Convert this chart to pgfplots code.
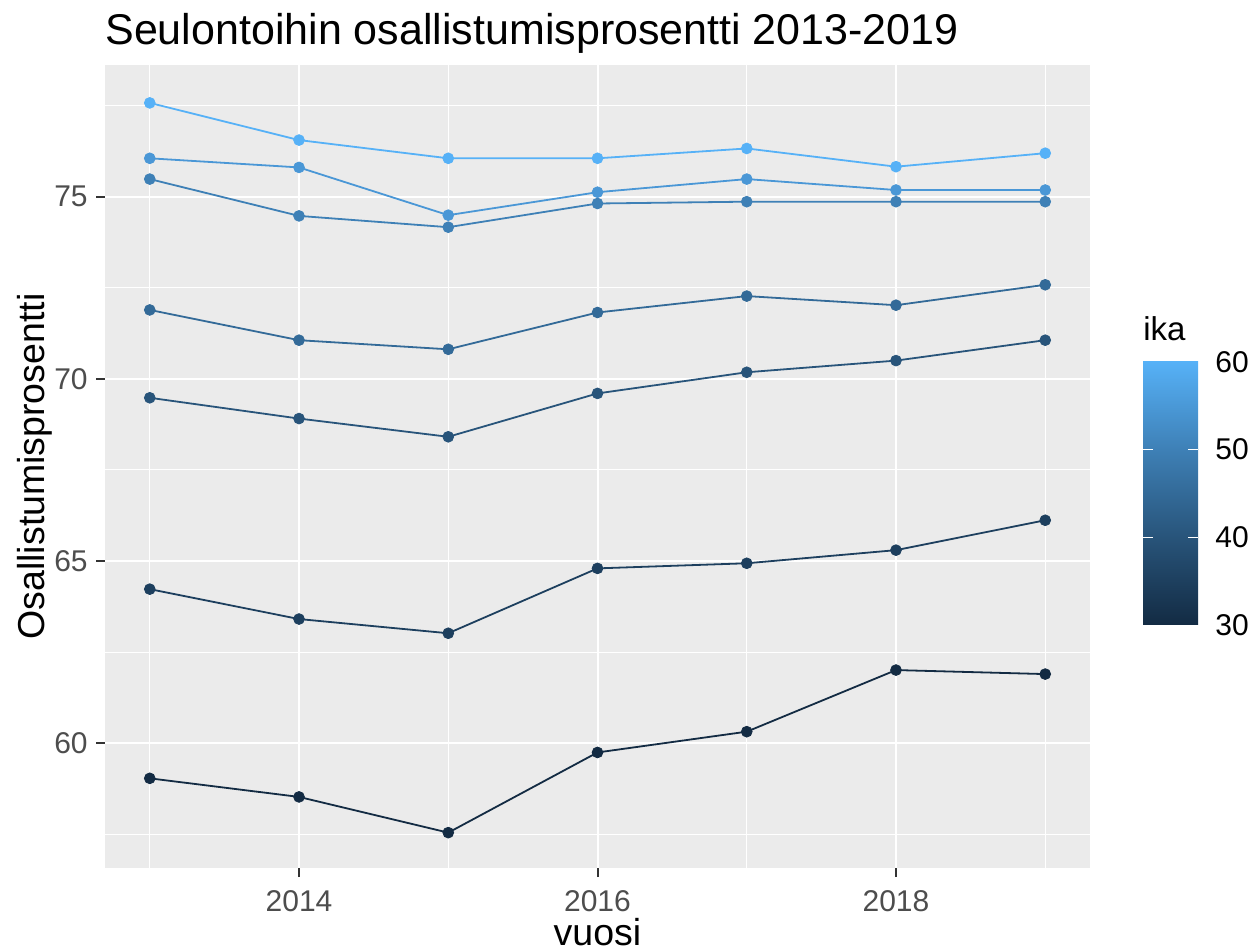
\documentclass[border=0pt]{standalone}
\usepackage{fontspec}
\setmainfont{Liberation Sans}
\usepackage{pgfplots}
\usepackage{pgfplotstable}
\pgfplotsset{compat=1.18}
\definecolor{panel}{HTML}{EBEBEB}
\definecolor{gtxt}{HTML}{4D4D4D}
\definecolor{gtick}{HTML}{333333}
\definecolor{c30}{HTML}{132B43}
\definecolor{c35}{HTML}{1D3F5E}
\definecolor{c40}{HTML}{28547A}
\definecolor{c45}{HTML}{336A98}
\definecolor{c50}{HTML}{3E80B6}
\definecolor{c55}{HTML}{4A97D6}
\definecolor{c60}{HTML}{56B1F7}

\pgfplotstableread{
year a30 a35 a40 a45 a50 a55 a60
2013 59.04 64.23 69.48 71.89 75.48 76.05 77.57
2014 58.53 63.41 68.91 71.06 74.47 75.80 76.55
2015 57.55 63.02 68.41 70.81 74.16 74.49 76.05
2016 59.75 64.80 69.60 71.82 74.81 75.12 76.05
2017 60.32 64.94 70.18 72.27 74.86 75.48 76.32
2018 62.01 65.30 70.50 72.02 74.86 75.18 75.82
2019 61.90 66.12 71.06 72.58 74.86 75.18 76.19
}\data

\begin{document}
\begin{tikzpicture}
\useasboundingbox (0,0) rectangle (625.5bp,475.5bp);
\begin{axis}[
  at={(52.5bp,41.5bp)}, anchor=south west,
  scale only axis, width=492.5bp, height=401.5bp,
  xmin=2012.7, xmax=2019.3, ymin=56.58, ymax=78.61,
  xtick={2014,2016,2018}, minor xtick={2013,2015,2017,2019},
  ytick={60,65,70,75}, minor ytick={57.5,62.5,67.5,72.5,77.5},
  grid=both,
  major grid style={white, line width=1bp},
  minor grid style={white, line width=0.5bp},
  axis background/.style={fill=panel},
  axis line style={draw=none},
  tick align=outside, tick pos=left,
  major tick length=4.5bp, minor tick length=0pt,
  tick style={gtick, line width=1bp},
  /pgf/number format/assume math mode=true,
  /pgf/number format/1000 sep={},
  tick label style={font=\fontsize{15bp}{18bp}\selectfont, text=gtxt, inner sep=0pt},
  yticklabel shift=4bp,
  xticklabel shift=6.5bp,
  xlabel={vuosi},
  xlabel style={at={(axis description cs:0.5,-0.0959)}, anchor=base, inner sep=0pt, font=\fontsize{18.75bp}{22bp}\selectfont},
  ylabel={Osallistumisprosentti},
  ylabel style={at={(axis description cs:-0.0619,0.5)}, anchor=base, inner sep=0pt, font=\fontsize{18.75bp}{22bp}\selectfont},
]
\addplot[c30, line width=0.9bp] table[x=year,y=a30]{\data};
\addplot[c35, line width=0.9bp] table[x=year,y=a35]{\data};
\addplot[c40, line width=0.9bp] table[x=year,y=a40]{\data};
\addplot[c45, line width=0.9bp] table[x=year,y=a45]{\data};
\addplot[c50, line width=0.9bp] table[x=year,y=a50]{\data};
\addplot[c55, line width=0.9bp] table[x=year,y=a55]{\data};
\addplot[c60, line width=0.9bp] table[x=year,y=a60]{\data};
\addplot[only marks, mark=*, mark size=2.7bp, c30] table[x=year,y=a30]{\data};
\addplot[only marks, mark=*, mark size=2.7bp, c35] table[x=year,y=a35]{\data};
\addplot[only marks, mark=*, mark size=2.7bp, c40] table[x=year,y=a40]{\data};
\addplot[only marks, mark=*, mark size=2.7bp, c45] table[x=year,y=a45]{\data};
\addplot[only marks, mark=*, mark size=2.7bp, c50] table[x=year,y=a50]{\data};
\addplot[only marks, mark=*, mark size=2.7bp, c55] table[x=year,y=a55]{\data};
\addplot[only marks, mark=*, mark size=2.7bp, c60] table[x=year,y=a60]{\data};
\end{axis}
\node[anchor=base west, inner sep=0pt, font=\fontsize{21.5bp}{26bp}\selectfont] at (52.5bp,453bp) {Seulontoihin osallistumisprosentti 2013-2019};
% colour bar legend
\node[anchor=base west, inner sep=0pt, font=\fontsize{16.5bp}{20bp}\selectfont] at (571.5bp,305bp) {ika};
\shade[bottom color=c30, top color=c40] (571.5bp,163bp) rectangle (599bp,206.9bp);
\shade[bottom color=c40, top color=c50] (571.5bp,206.8bp) rectangle (599bp,250.8bp);
\shade[bottom color=c50, top color=c60] (571.5bp,250.7bp) rectangle (599bp,294.5bp);
\draw[white, line width=0.6bp] (571.5bp,206.8bp) -- ++(5bp,0) (599bp,206.8bp) -- ++(-5bp,0);
\draw[white, line width=0.6bp] (571.5bp,250.7bp) -- ++(5bp,0) (599bp,250.7bp) -- ++(-5bp,0);
\foreach \v/\y in {30/163,40/206.8,50/250.7,60/294.5}
  \node[anchor=west, inner sep=0pt, font=\fontsize{15bp}{18bp}\selectfont] at (607.5bp,\y bp) {\v};
\end{tikzpicture}
\end{document}
